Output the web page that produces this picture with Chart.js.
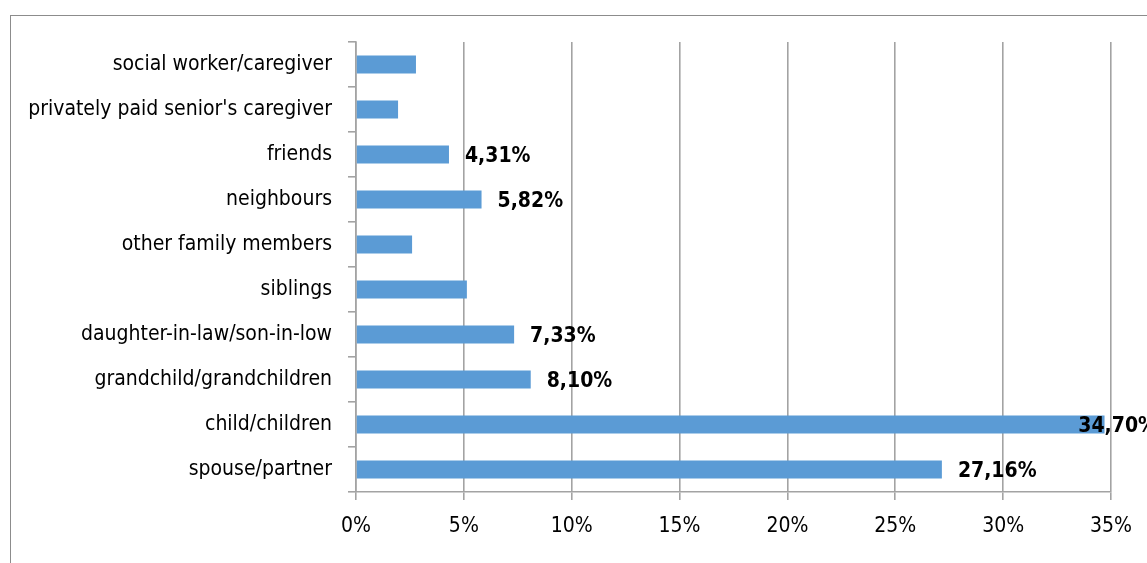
<!DOCTYPE html>
<html>
<head>
<meta charset="utf-8">
<script src="https://cdn.jsdelivr.net/npm/chart.js@4/dist/chart.umd.min.js"></script>
<style>
  html, body { margin: 0; padding: 0; background: #fff; }
  #wrap { width: 1147px; height: 563px; }
</style>
</head>
<body>
<div id="wrap"><canvas id="chart" width="1147" height="563"></canvas></div>
<script>
// categories, top to bottom as in the picture
var categories = [
    'social worker/caregiver',
    "privately paid senior's caregiver",
    'friends',
    'neighbours',
    'other family members',
    'siblings',
    'daughter-in-law/son-in-low',
    'grandchild/grandchildren',
    'child/children',
    'spouse/partner'
];
var shares = [2.78, 1.95, 4.31, 5.82, 2.6, 5.14, 7.33, 8.10, 34.70, 27.16];
// only some bars carry a label in the original
var shownLabels = [null, null, '4,31%', '5,82%', null, null, '7,33%', '8,10%', '34,70%', '27,16%'];
var xTicks = [0, 5, 10, 15, 20, 25, 30, 35];

var FONT = "'Liberation Sans Narrow', 'DejaVu Sans Condensed', 'Liberation Sans', sans-serif";

// frame around the chart, cut off at the right and bottom
var framePlugin = {
    id: 'frame',
    beforeDraw: function(chart) {
        var ctx = chart.ctx;
        ctx.save();
        ctx.strokeStyle = '#8c8c8c';
        ctx.lineWidth = 1;
        ctx.strokeRect(10.5, 15.5, 1300, 700);
        ctx.restore();
    }
};

// value labels to the right of the bars
var valueLabels = {
    id: 'valueLabels',
    afterDatasetsDraw: function(chart) {
        var ctx = chart.ctx;
        var meta = chart.getDatasetMeta(0);
        ctx.save();
        ctx.font = 'bold 21px ' + FONT;
        ctx.fillStyle = '#000';
        ctx.textBaseline = 'middle';
        meta.data.forEach(function(bar, i) {
            var txt = shownLabels[i];
            if (!txt) return;
            var w = ctx.measureText(txt).width;
            var x = bar.x + 16;
            if (x + w > chart.width + 10) x = chart.width + 10 - w;
            ctx.fillText(txt, x, bar.y + 2);
        });
        ctx.restore();
    }
};

new Chart(document.getElementById('chart'), {
    type: 'bar',
    data: {
        labels: categories,
        datasets: [{
            data: shares,
            backgroundColor: '#5b9bd5',
            borderWidth: 0,
            barPercentage: 0.4,
            categoryPercentage: 1.0
        }]
    },
    options: {
        indexAxis: 'y',
        responsive: false,
        animation: false,
        devicePixelRatio: 1,
        layout: { padding: { top: 42, right: 36, left: 0, bottom: 0 } },
        plugins: {
            legend: { display: false },
            tooltip: { enabled: false }
        },
        scales: {
            x: {
                min: 0,
                max: 35,
                afterBuildTicks: function(scale) {
                    scale.ticks = xTicks.map(function(v) { return { value: v }; });
                },
                afterFit: function(scale) { scale.height = 71; },
                grid: {
                    color: '#a3a3a3',
                    lineWidth: 1.6,
                    tickLength: 8,
                    drawTicks: true
                },
                border: { color: '#a3a3a3', width: 1.6 },
                ticks: {
                    color: '#000',
                    padding: 14,
                    font: { family: FONT, size: 21 },
                    callback: function(v) { return v + '%'; }
                }
            },
            y: {
                afterFit: function(scale) { scale.width = 356; },
                grid: {
                    drawOnChartArea: false,
                    color: '#a3a3a3',
                    lineWidth: 1.6,
                    tickLength: 8,
                    offset: true
                },
                border: { color: '#a3a3a3', width: 1.6 },
                ticks: {
                    color: '#000',
                    padding: 16,
                    font: { family: FONT, size: 21 }
                }
            }
        }
    },
    plugins: [framePlugin, valueLabels]
});
</script>
</body>
</html>
